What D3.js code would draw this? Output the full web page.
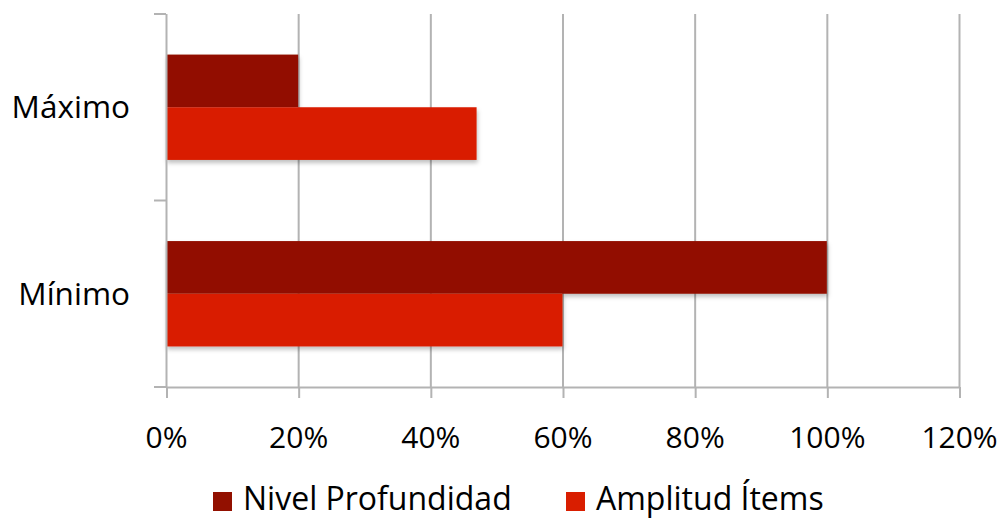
<!DOCTYPE html>
<html><head><meta charset="utf-8">
<script src="https://cdn.jsdelivr.net/npm/d3@7"></script>
<style>body{margin:0;background:#fff}svg{display:block}text{font-family:"Open Sans",sans-serif;fill:#000}</style>
</head><body><svg id="c" width="1004" height="519"></svg>
<script>
const categories = ["Máximo", "Mínimo"];
const seriesNames = ["Nivel Profundidad", "Amplitud Ítems"];
const nivelProfundidad = [0.20, 1.00];
const amplitudItems = [0.47, 0.60];
const xTicks = [0, 0.2, 0.4, 0.6, 0.8, 1.0, 1.2];
const colors = ["#921000", "#D91E00"];

const svg = d3.select("#c");
const L = 166, R = 959, T = 14, B = 387;
const x = d3.scaleLinear().domain([0, 1.2]).range([L, R]);
const y = d3.scaleBand().domain(categories).range([T, B]).paddingInner(0.435).paddingOuter(0.2175);
const ys = d3.scaleBand().domain(seriesNames).range([0, y.bandwidth()]);

const defs = svg.append("defs");
const f = defs.append("filter").attr("id","sh").attr("x","-5%").attr("y","-10%").attr("width","115%").attr("height","140%");
f.append("feDropShadow").attr("dx",1).attr("dy",3).attr("stdDeviation",2).attr("flood-color","#000").attr("flood-opacity",0.25);

// gridlines
svg.append("g").selectAll("line").data(xTicks.slice(1)).join("line")
  .attr("x1", d=>x(d)+0.5).attr("x2", d=>x(d)+0.5).attr("y1", T).attr("y2", B)
  .attr("stroke", "#b3b3b3").attr("stroke-width", 2);

// bars
const data = categories.map((c,i)=>({c, vals:[nivelProfundidad[i], amplitudItems[i]]}));
const g = svg.append("g");
data.forEach(d=>{
  d.vals.forEach((v,j)=>{
    g.append("rect").attr("x", x(0)).attr("y", y(d.c)+ys(seriesNames[j]))
      .attr("width", x(v)-x(0)).attr("height", ys.bandwidth())
      .attr("fill", colors[j]).attr("filter","url(#sh)");
  });
});

// x axis
const xa = svg.append("g").attr("transform", `translate(0,${B})`)
  .call(d3.axisBottom(x).tickValues(xTicks).tickFormat(d3.format(".0%")).tickSize(11).tickPadding(0));
xa.select(".domain").attr("stroke","#b3b3b3").attr("stroke-width",2).attr("d",`M${L},0.5H${R}`);
xa.selectAll(".tick line").attr("stroke","#b3b3b3").attr("stroke-width",2).attr("transform","translate(0.5,0)");
xa.selectAll("text").style("font-size","30px").attr("fill","#000").attr("dy",null).attr("y",61);

// y axis
const ya = svg.append("g").attr("transform", `translate(${L},0)`);
ya.append("line").attr("x1",0.5).attr("x2",0.5).attr("y1",T).attr("y2",B).attr("stroke","#b3b3b3").attr("stroke-width",2);
const yTicks = [T, (T+B)/2, B];
ya.selectAll("line.t").data(yTicks).join("line").attr("class","t")
  .attr("x1",-12).attr("x2",0).attr("y1",d=>d).attr("y2",d=>d).attr("stroke","#b3b3b3").attr("stroke-width",2);
ya.selectAll("text").data(categories).join("text")
  .attr("x",-36).attr("y",d=>y(d)+y.bandwidth()/2).attr("dy","0.35em").attr("text-anchor","end")
  .style("font-size","31.5px").text(d=>d);

// legend
const leg = svg.append("g");
const lx = [213, 566];
seriesNames.forEach((s,i)=>{
  leg.append("rect").attr("x",lx[i]).attr("y",492).attr("width",19).attr("height",19).attr("fill",colors[i]);
  leg.append("text").attr("x",lx[i]+30).attr("y",510).style("font-size","32px").text(s);
});
</script></body></html>
